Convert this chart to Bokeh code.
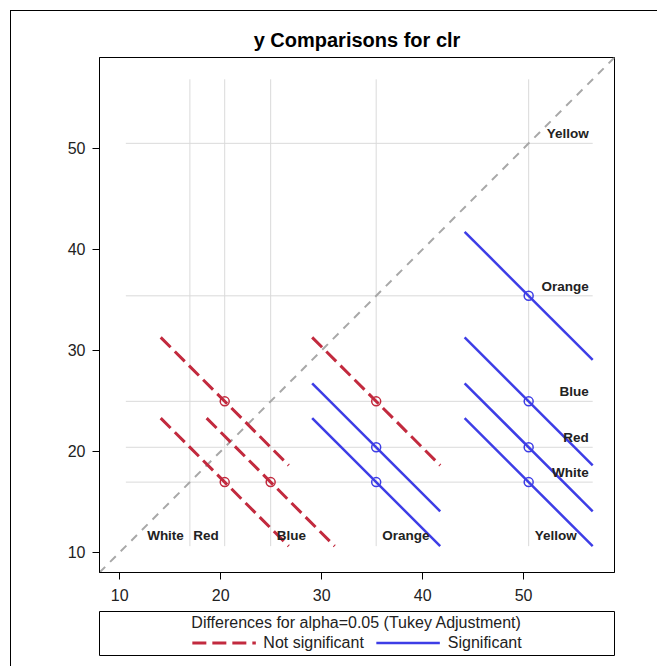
from bokeh.plotting import figure
from bokeh.layouts import column
from bokeh.models import Range1d, Legend, LegendItem, ColumnDataSource, FixedTicker
from bokeh.core.properties import value
from bokeh.embed import file_html
from bokeh.resources import INLINE

# LS-means of y for each level of clr
levels = ["White", "Red", "Blue", "Orange", "Yellow"]
means = [16.95, 20.4, 24.95, 35.4, 50.5]

# pairwise comparisons: (level on x, level on y)
pair_x = ["Red", "Red", "Blue", "Orange", "Orange", "Orange", "Yellow", "Yellow", "Yellow", "Yellow"]
pair_y = ["Blue", "White", "White", "Blue", "Red", "White", "Orange", "Blue", "Red", "White"]

# Tukey minimum significant difference (alpha = 0.05)
tukey_msd = 12.68

# side of the reference line on which each bottom label sits
bottom_align = ["right", "right", "left", "left", "left"]

axis_lo, axis_hi = 8.0, 59.0
tick_values = [10, 20, 30, 40, 50]

RED = "#C22A3E"
BLUE = "#3D3DE6"
FONT = value("Liberation Sans")

mean_of = dict(zip(levels, means))
half = tukey_msd / 2.0

# build the slope -1 segments for every pair
rows = {"ns": dict(x=[], y=[], x0=[], y0=[], x1=[], y1=[]),
        "sig": dict(x=[], y=[], x0=[], y0=[], x1=[], y1=[])}
all_x, all_y = [], []
for a, b in zip(pair_x, pair_y):
    mx, my = mean_of[a], mean_of[b]
    key = "sig" if abs(mx - my) > tukey_msd else "ns"
    r = rows[key]
    r["x"].append(mx); r["y"].append(my)
    r["x0"].append(mx - half); r["y0"].append(my + half)
    r["x1"].append(mx + half); r["y1"].append(my - half)
    all_x += [mx - half, mx + half]
    all_y += [my - half, my + half]
ref_lo = min(all_x + all_y)
ref_hi = max(all_x + all_y)

p = figure(width=646, height=600, output_backend="svg", toolbar_location=None,
           x_range=Range1d(axis_lo, axis_hi), y_range=Range1d(axis_lo, axis_hi),
           title="y Comparisons for clr",
           min_border_left=88, min_border_right=43, min_border_top=46, min_border_bottom=39)
p.title.align = "center"
p.title.text_font = "Liberation Sans"
p.title.text_font_size = "20px"
p.title.text_font_style = "bold"
p.title.text_color = "#000000"
p.title.standoff = 13
p.grid.visible = False
p.outline_line_color = "black"
p.outline_line_width = 1
p.background_fill_color = "white"
p.border_fill_color = "white"

for ax in (p.xaxis[0], p.yaxis[0]):
    ax.ticker = FixedTicker(ticks=tick_values)
    ax.minor_tick_line_color = None
    ax.major_tick_in = 0
    ax.major_tick_out = 7
    ax.major_tick_line_color = "black"
    ax.axis_line_color = "black"
    ax.major_label_text_font = "Liberation Sans"
    ax.major_label_text_font_size = "16px"
    ax.major_label_text_color = "#222222"
p.xaxis[0].major_label_standoff = 9
p.yaxis[0].major_label_standoff = 7

# reference lines at each mean
p.segment(x0=means, y0=[ref_lo] * len(means), x1=means, y1=[ref_hi] * len(means),
          line_color="#DADADA", line_width=1)
p.segment(x0=[ref_lo] * len(means), y0=means, x1=[ref_hi] * len(means), y1=means,
          line_color="#DADADA", line_width=1)

# line of equality
p.line(x=[axis_lo, axis_hi], y=[axis_lo, axis_hi], line_color="#A8A8A8",
       line_width=2, line_dash="8 7")

src_ns = ColumnDataSource(rows["ns"])
src_sig = ColumnDataSource(rows["sig"])
p.segment(x0="x0", y0="y0", x1="x1", y1="y1", source=src_ns, line_color=RED,
          line_width=3, line_dash="14 6")
p.segment(x0="x0", y0="y0", x1="x1", y1="y1", source=src_sig, line_color=BLUE,
          line_width=2.5)
p.scatter(x="x", y="y", source=src_ns, marker="circle", size=9, fill_color=None,
          line_color=RED, line_width=1.5)
p.scatter(x="x", y="y", source=src_sig, marker="circle", size=9, fill_color=None,
          line_color=BLUE, line_width=1.5)

# level names along the bottom
for lv, m, al in zip(levels, means, bottom_align):
    p.text(x=[m], y=[ref_lo], text=[lv], text_align=al, text_baseline="bottom",
           x_offset=-6 if al == "right" else 6, y_offset=-3,
           text_font=FONT, text_font_size="13.5px", text_font_style="bold",
           text_color="#222222")

# level names along the right side
p.text(x=[ref_hi] * len(levels), y=means, text=levels, text_align="right",
       text_baseline="bottom", x_offset=-4, y_offset=-2,
       text_font=FONT, text_font_size="13.5px", text_font_style="bold",
       text_color="#222222")

# legend panel; its sample lines sit outside the visible range
leg = figure(width=646, height=55, output_backend="svg", toolbar_location=None,
             x_range=Range1d(0, 1), y_range=Range1d(0, 1),
             x_axis_location=None, y_axis_location=None,
             min_border_left=88, min_border_right=43, min_border_top=0, min_border_bottom=11)
leg.grid.visible = False
leg.outline_line_color = "black"
leg.outline_line_width = 1
leg.border_fill_color = "white"
r_ns = leg.line(x=[-2, -1], y=[-2, -1], line_color=RED, line_width=3, line_dash="14 6")
r_sig = leg.line(x=[-2, -1], y=[-2, -1], line_color=BLUE, line_width=2.5)
legend = Legend(items=[LegendItem(label="Not significant", renderers=[r_ns]),
                       LegendItem(label="Significant", renderers=[r_sig])],
                orientation="horizontal", location="center",
                title="Differences for alpha=0.05 (Tukey Adjustment)",
                title_text_font="Liberation Sans", title_text_font_size="16px",
                title_text_font_style="normal", title_text_color="#222222",
                label_text_font="Liberation Sans", label_text_font_size="16px",
                label_text_color="#222222", glyph_width=64, label_standoff=8,
                spacing=12, padding=0, margin=0, title_standoff=1,
                border_line_alpha=0, background_fill_alpha=0)
leg.add_layout(legend, "center")

layout = column(p, leg, margin=(10, 0, 0, 10),
                styles={"border-left": "1px solid black", "border-top": "1px solid black"})

open("out.html", "w").write(file_html(layout, INLINE))
